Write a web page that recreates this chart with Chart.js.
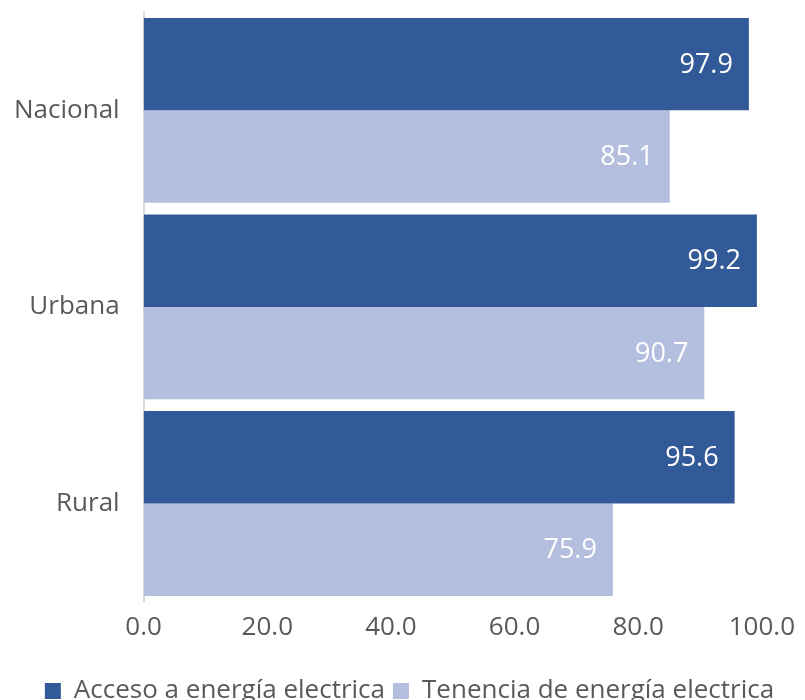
<!DOCTYPE html>
<html>
<head>
<meta charset="utf-8">
<script src="https://cdn.jsdelivr.net/npm/chart.js@4.4.1/dist/chart.umd.min.js"></script>
<style>
  html, body { margin: 0; padding: 0; background: #fff; }
  #wrap { width: 805px; height: 700px; }
</style>
</head>
<body>
<div id="wrap"><canvas id="chart" width="805" height="700"></canvas></div>
<script>
const categories = ['Nacional', 'Urbana', 'Rural'];
const seriesNames = ['Acceso a energía electrica', 'Tenencia de energía electrica'];
const acceso = [97.9, 99.2, 95.6];
const tenencia = [85.1, 90.7, 75.9];
const xTicks = [0, 20, 40, 60, 80, 100];

const textGray = '#595959';
const fontFamily = '"Open Sans", sans-serif';

// white value labels drawn inside the bar end
const barLabels = {
  id: 'barLabels',
  afterDatasetsDraw(chart) {
    const c = chart.ctx;
    c.save();
    c.font = '27px ' + fontFamily;
    c.fillStyle = '#ffffff';
    c.textAlign = 'right';
    c.textBaseline = 'middle';
    chart.data.datasets.forEach((ds, i) => {
      chart.getDatasetMeta(i).data.forEach((bar, j) => {
        c.fillText(ds.data[j].toFixed(1), bar.x - 16, bar.y + 1);
      });
    });
    c.restore();
  }
};

new Chart(document.getElementById('chart'), {
  type: 'bar',
  data: {
    labels: categories,
    datasets: [
      { label: seriesNames[0], data: acceso, backgroundColor: '#335a98', categoryPercentage: 0.94, barPercentage: 1.0 },
      { label: seriesNames[1], data: tenencia, backgroundColor: '#b4bedf', categoryPercentage: 0.94, barPercentage: 1.0 }
    ]
  },
  options: {
    indexAxis: 'y',
    responsive: false,
    animation: false,
    layout: { padding: { top: 12, right: 0, left: 14, bottom: -14 } },
    plugins: {
      legend: {
        position: 'bottom',
        labels: {
          color: textGray,
          font: { family: fontFamily, size: 26 },
          boxWidth: 16,
          boxHeight: 16,
          padding: 8,
          useBorderRadius: false
        }
      },
      tooltip: { enabled: false }
    },
    scales: {
      x: {
        min: 0,
        max: 100,
        afterBuildTicks: axis => { axis.ticks = xTicks.map(v => ({ value: v })); },
        afterFit: s => { s.paddingLeft = 0; s.height += 17; },
        grid: { display: false, drawTicks: false },
        border: { display: false },
        ticks: {
          color: textGray,
          padding: 10,
          font: { family: fontFamily, size: 26 },
          callback: v => Number(v).toFixed(1)
        }
      },
      y: {
        grid: { display: false, drawTicks: false },
        border: { display: true, color: '#d9d9d9', width: 2 },
        afterFit: s => { s.paddingTop = 0; s.paddingBottom = 0; s.width -= 24; },
        ticks: {
          color: textGray,
          padding: 24,
          font: { family: fontFamily, size: 26 }
        }
      }
    }
  },
  plugins: [barLabels]
});
</script>
</body>
</html>
